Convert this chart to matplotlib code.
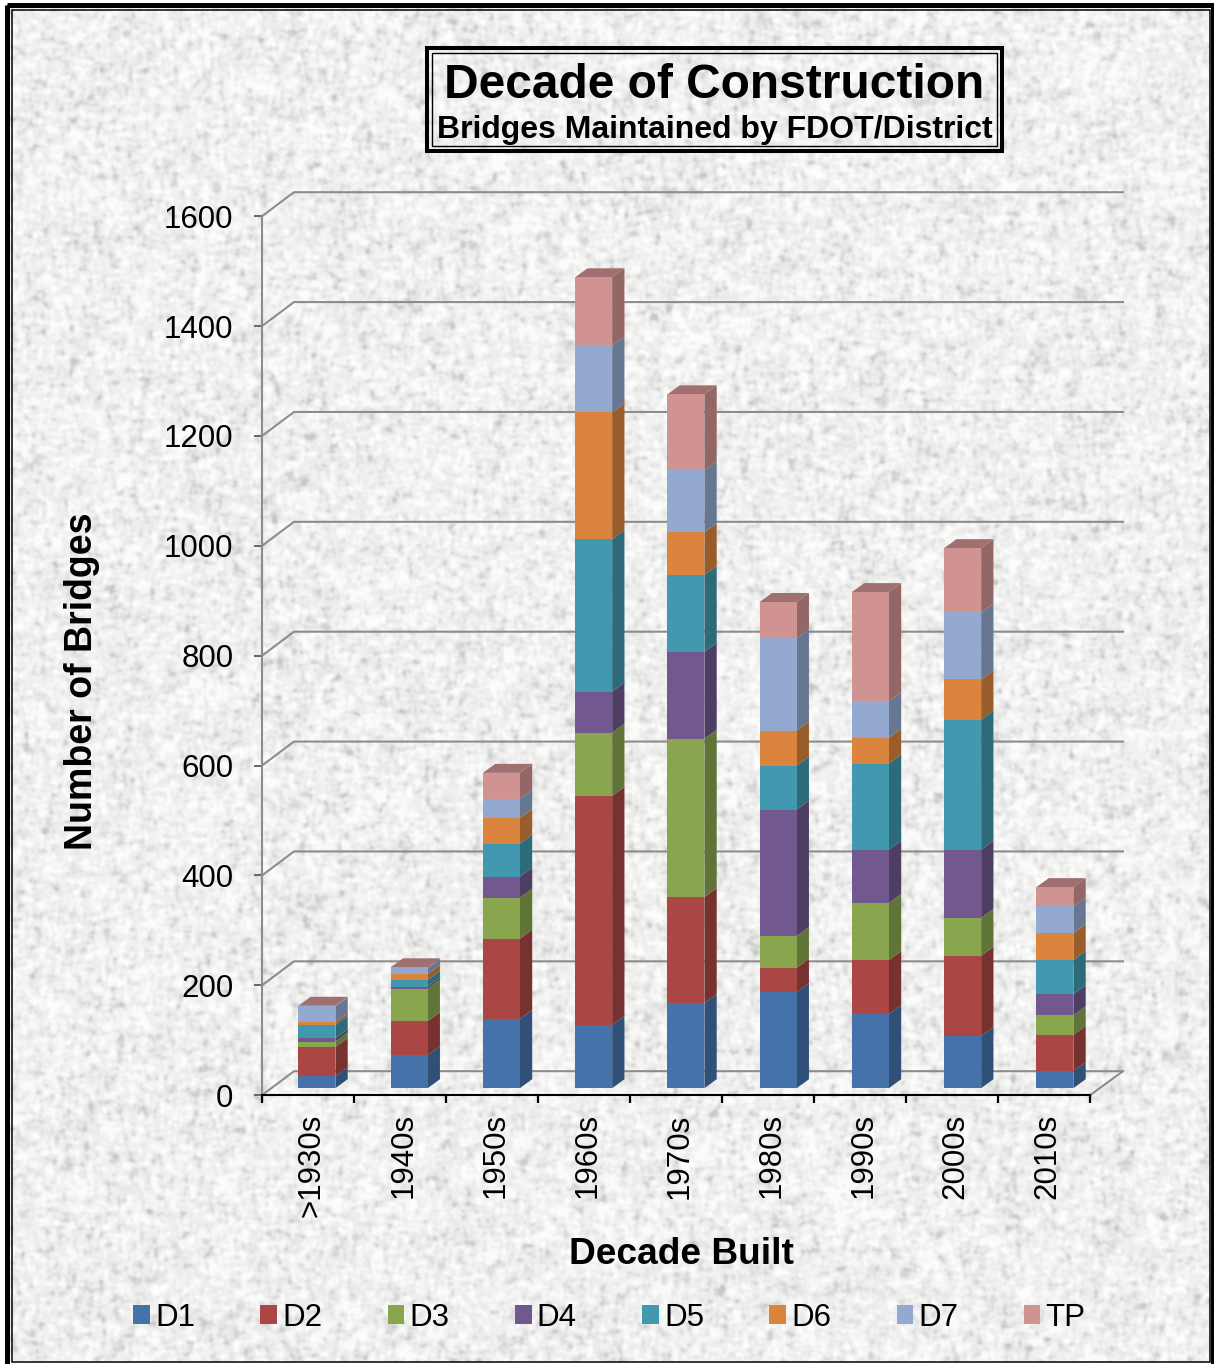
import matplotlib
matplotlib.use('Agg')
import matplotlib.pyplot as plt
from matplotlib.patches import Patch, Rectangle
from matplotlib.colors import to_rgb
import numpy as np

plt.rcParams['font.family'] = ['Liberation Sans', 'DejaVu Sans']

decades = ['>1930s', '1940s', '1950s', '1960s', '1970s', '1980s', '1990s', '2000s', '2010s']
d1 = [22, 60, 126, 115, 155, 175, 135, 95, 31]
d2 = [53, 62, 146, 417, 193, 44, 98, 146, 66]
d3 = [10, 59, 75, 115, 288, 58, 104, 69, 36]
d4 = [6, 4, 38, 75, 158, 230, 97, 124, 38]
d5 = [24, 12, 60, 277, 140, 80, 157, 237, 62]
d6 = [5, 11, 47, 231, 78, 64, 47, 73, 49]
d7 = [29, 10, 35, 122, 113, 168, 66, 122, 49]
tp = [1, 2, 47, 124, 138, 66, 199, 117, 35]
series = [d1, d2, d3, d4, d5, d6, d7, tp]
names = ['D1', 'D2', 'D3', 'D4', 'D5', 'D6', 'D7', 'TP']
colors = ['#4672AA', '#AA4643', '#89A54E', '#71588F', '#4198AF', '#DB843D', '#93A9CF', '#D19392']
y_ticks = [0, 200, 400, 600, 800, 1000, 1200, 1400, 1600]

W, H = 1214, 1364
GRID = '#8c8c8c'

# pixel sizes to data units on the chart axes
PX_X = 1 / 92.0
PX_Y = 1600 / 879.0


def shade(c, f):
    return tuple(v * f for v in to_rgb(c))


def mottled(shape, seed):
    # stone-like paper: band-limited noise, mostly fine flecks
    rng = np.random.default_rng(seed)
    fy = np.fft.fftfreq(shape[0])[:, None]
    fx = np.fft.rfftfreq(shape[1])[None, :]
    out = np.zeros(shape)
    for sx, sy, amp in [(1.5, 1.5, 0.8), (3.5, 1.8, 1.0), (1.8, 3.5, 1.0), (12, 12, 0.25)]:
        n = rng.standard_normal(shape)
        g = np.exp(-2 * (np.pi ** 2) * ((fx * sx) ** 2 + (fy * sy) ** 2))
        f = np.fft.irfft2(np.fft.rfft2(n) * g, s=shape)
        out += amp * f / f.std()
    return out / out.std()


fig = plt.figure(figsize=(W / 100, H / 100), dpi=100, facecolor='white')

# paper background and double frame, in pixel coordinates
bg = fig.add_axes([0, 0, 1, 1], zorder=0)
bg.set_xlim(0, W)
bg.set_ylim(H, 0)
bg.axis('off')
tex = mottled((H, W), 7)
gray = np.clip(240 + 7 * tex - 7 * np.clip(-tex - 0.9, 0, None), 200, 252) / 255
bg.imshow(np.dstack([gray, gray, gray * 0.997]), extent=(8, 1210, 1362, 8), aspect='auto',
          interpolation='bilinear', zorder=0)
bg.set_xlim(0, W)
bg.set_ylim(H, 0)
bg.add_patch(Rectangle((6.5, 5), 1206, 1362, fill=False, ec='black', lw=3.6, zorder=2))
bg.add_patch(Rectangle((11.5, 9.5), 1198, 1352, fill=False, ec='black', lw=1.1, zorder=2))

# title box
bg.add_patch(Rectangle((426.5, 47.5), 575, 103, fill=False, ec='black', lw=2.9, zorder=2))
bg.add_patch(Rectangle((431.5, 52.5), 565, 93, fill=False, ec='black', lw=1.0, zorder=2))
bg.text(714, 86, 'Decade of Construction', fontsize=34.5, fontweight='bold', ha='center', va='center')
bg.text(714.5, 130, 'Bridges Maintained by FDOT/District', fontsize=23, fontweight='bold', ha='center', va='center')

ax = fig.add_axes([262 / W, 1 - 1095.2 / H, 828 / W, 879 / H], zorder=1)
ax.patch.set_visible(False)
ax.set_xlim(0, 9)
ax.set_ylim(0, 1600)

# back wall gridlines, side wall diagonals and floor
wall_dx = 32 * PX_X
wall_dy = 24 * PX_Y
right = 9 + 33 * PX_X
for t in y_ticks:
    ax.plot([0, wall_dx, right], [t, t + wall_dy, t + wall_dy], color=GRID, lw=1.5, clip_on=False, zorder=1)
ax.plot([9, right], [0, wall_dy], color=GRID, lw=1.5, clip_on=False, zorder=1)

# stacked bars with a side and a top face
bar_left = 36.4 * PX_X
bar_step = 92.25 * PX_X
bar_w = 37 * PX_X
depth_x = 12.3 * PX_X
depth_y = 9 * PX_Y
lift = 7 * PX_Y
for i in range(len(decades)):
    x0 = i * bar_step + bar_left
    x1 = x0 + bar_w
    base = lift
    for vals, c in zip(series, colors):
        top = base + vals[i]
        ax.fill([x1, x1 + depth_x, x1 + depth_x, x1],
                [base, base + depth_y, top + depth_y, top],
                color=shade(c, 0.7), lw=0, clip_on=False, zorder=3)
        ax.bar(x0, vals[i], bar_w, bottom=base, align='edge', color=c, lw=0, zorder=4)
        base = top
    ax.fill([x0, x1, x1 + depth_x, x0 + depth_x],
            [base, base, base + depth_y, base + depth_y],
            color=shade(colors[-1], 0.76), lw=0, clip_on=False, zorder=3)

for s in ['top', 'right']:
    ax.spines[s].set_visible(False)
ax.spines['left'].set_color(GRID)
ax.spines['left'].set_linewidth(1.5)
ax.spines['bottom'].set_color('black')
ax.spines['bottom'].set_linewidth(1.5)

ax.set_yticks(y_ticks)
ax.tick_params(axis='y', length=5.5, width=1.4, color='#666666', labelsize=22.5, pad=15)
ax.set_xticks(np.arange(0, 10))
ax.set_xticklabels([])
ax.tick_params(axis='x', which='major', length=5.8, width=1.6, color='black')
ax.set_xticks(np.arange(9) + 0.54, minor=True)
ax.set_xticklabels(decades, minor=True, rotation=90, fontsize=22.5, va='top', ha='center')
ax.tick_params(axis='x', which='minor', length=0, pad=13)

bg.text(82, 681, 'Number of Bridges', fontsize=27, fontweight='bold', rotation=90, ha='center', va='center')
bg.text(681, 1254, 'Decade Built', fontsize=26.7, fontweight='bold', ha='center', va='center')

handles = [Patch(facecolor=c, edgecolor='none', label=n) for c, n in zip(colors, names)]
fig.legend(handles=handles, ncol=8, loc='center', bbox_to_anchor=(609.5 / W, 1 - 1318 / H),
           frameon=False, fontsize=22.5, handlelength=0.53, handleheight=0.56, handletextpad=0.17,
           columnspacing=2.09, borderpad=0, borderaxespad=0)

plt.savefig('out.png', dpi=100)
